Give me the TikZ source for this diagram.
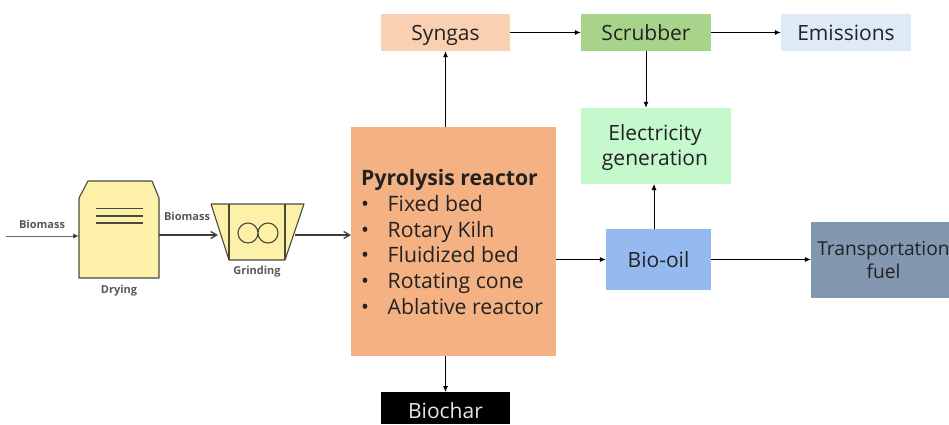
\documentclass[tikz,border=0pt]{standalone}
\usepackage{fontspec}
\setmainfont{Open Sans}
\usetikzlibrary{arrows.meta}
\definecolor{txt}{HTML}{222222}
\definecolor{eqfill}{HTML}{FDF0A8}
\definecolor{eqline}{HTML}{4A4A3A}
\tikzset{
  box/.style={rectangle,inner sep=0pt,align=center,text=txt,font=\fontsize{21}{25}\selectfont},
  oneline/.style={box,text height=20pt,text depth=5pt},
  flow/.style={draw=black,line width=0.8pt,-{Latex[length=6pt,width=5pt]}},
  pipe/.style={draw=eqline!85!black,line width=1.3pt,-{Straight Barb[length=6pt,width=7pt]}},
  equip/.style={draw=eqline,line width=1.1pt,fill=eqfill,line join=round},
  small/.style={inner sep=0pt,text=black!65,font=\bfseries\fontsize{11}{13}\selectfont},
}
\begin{document}
\begin{tikzpicture}[x=1pt,y=-1pt]
\useasboundingbox (0,0) rectangle (949,424);
\fill[white] (0,0) rectangle (949,424);
\node[oneline,fill={rgb,255:red,250;green,208;blue,178},minimum width=129pt,minimum height=37pt] (syngas) at (445.5,32.5) {Syngas};
\node[oneline,fill={rgb,255:red,167;green,211;blue,138},minimum width=130pt,minimum height=37pt] (scrubber) at (646,32.5) {Scrubber};
\node[oneline,fill={rgb,255:red,222;green,234;blue,246},minimum width=130pt,minimum height=37pt] (emissions) at (846,32.5) {Emissions};
\node[box,fill={rgb,255:red,198;green,248;blue,206},minimum width=150pt,minimum height=76pt] (elec) at (656,146) {};
\node[box] (electext) at (655,147.5) {Electricity\\generation};
\node[oneline,fill={rgb,255:red,148;green,186;blue,240},minimum width=105pt,minimum height=61pt] (biooil) at (658.5,259.5) {Bio-oil};
\node[box,fill={rgb,255:red,132;green,151;blue,176},minimum width=138pt,minimum height=76pt] (fuel) at (880,259.5) {};
\node[box,font=\fontsize{19.2}{23}\selectfont] (fueltext) at (883.5,260) {Transportation\\fuel};
\node[box,fill={rgb,255:red,244;green,177;blue,131},minimum width=205pt,minimum height=229pt] (reactor) at (453.5,241.5) {};
\node[box,fill=black,minimum width=129pt,minimum height=32pt,anchor=north] (biochar) at (445.5,392) {};
\node[oneline,text=white!90!black] (biochartext) at (445.5,411) {Biochar};
\node[box,anchor=west,align=left,font=\fontsize{21.2}{25.7}\selectfont] (list) at (361,242) {%
  \textbf{Pyrolysis reactor}\\
  \hbox to 26.5pt{\textbullet\hfil}Fixed bed\\
  \hbox to 26.5pt{\textbullet\hfil}Rotary Kiln\\
  \hbox to 26.5pt{\textbullet\hfil}Fluidized bed\\
  \hbox to 26.5pt{\textbullet\hfil}Rotating cone\\
  \hbox to 26.5pt{\textbullet\hfil}Ablative reactor};
% equipment
\draw[equip] (79,278) -- (79,198) -- (88,181) -- (152,181) -- (159,198) -- (159,278) -- cycle;
\draw[eqline,line width=1.1pt] (96,208.5) -- (143,208.5) (96,216) -- (143,216) (96,223) -- (143,223);
\draw[equip] (211,204) -- (304,204) -- (285,260) -- (229,260) -- cycle;
\draw[eqline,line width=1.1pt] (229,204) -- (229,260) (285,204) -- (285,260);
\draw[eqline,line width=1.1pt] (248,233) circle (10) (268,233) circle (10);
\coordinate (drying) at (159,235);
\coordinate (dryin) at (79,236);
\coordinate (src) at (6,236);
\coordinate (grindin) at (218,235);
\coordinate (grindout) at (295,235);
\coordinate (reacin) at (351,235);
\node[small] (lb1) at (42,224) {Biomass};
\node[small] (lb2) at (187,216) {Biomass};
\node[small] (lb3) at (257,271.5) {Grinding};
\node[small] (lb4) at (119,290.5) {Drying};
% connectors
\draw[draw=black!60,line width=0.8pt,-{Latex[length=6pt,width=5.5pt,fill=black]}] (src) -- (dryin);
\draw[pipe] (drying) -- (grindin);
\draw[pipe] (grindout) -- (reacin);
\draw[flow] (reactor.north -| syngas) -- (syngas.south);
\draw[flow] (reactor.south -| biochar) -- (biochar.north);
\draw[flow] (syngas.east) -- (scrubber.west);
\draw[flow] (scrubber.east) -- (emissions.west);
\draw[flow] (scrubber.south) -- (scrubber.south |- elec.north);
\draw[flow] (654,229) -- (654,184);
\draw[flow] (reactor.east |- biooil) -- (biooil.west);
\draw[flow] (biooil.east) -- (fuel.west);
\end{tikzpicture}
\end{document}
